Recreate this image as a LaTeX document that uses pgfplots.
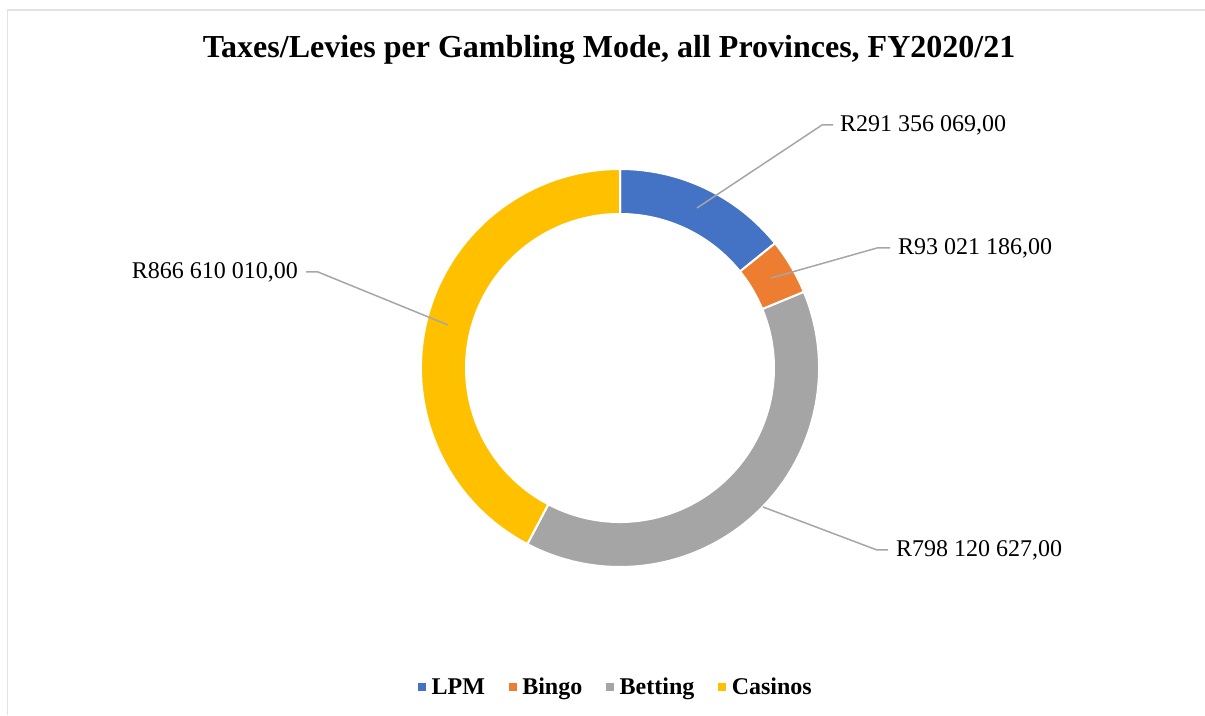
\documentclass[border=0pt]{standalone}
\usepackage{pgfplots}
\pgfplotsset{compat=1.18}
\usepackage{fontspec}
\setmainfont{Liberation Serif}
\definecolor{cLPM}{HTML}{4472C4}
\definecolor{cBingo}{HTML}{ED7D31}
\definecolor{cBetting}{HTML}{A5A5A5}
\definecolor{cCasinos}{HTML}{FFC000}
\definecolor{cLead}{HTML}{A6A6A6}
\definecolor{cFrame}{HTML}{E3E3E3}
\newcommand{\donutslice}[3]{%
  \fill[#1,draw=white,line width=2pt]
    (axis cs:{620+199*cos(#2)},{347+199*sin(#2)})
    arc[start angle=#2,end angle=#3,radius=199pt]
    -- (axis cs:{620+154*cos(#3)},{347+154*sin(#3)})
    arc[start angle=#3,end angle=#2,radius=154pt] -- cycle;}
\begin{document}
\begin{tikzpicture}
% values (Rand, in millions)
\pgfmathsetmacro{\vA}{291.356069}
\pgfmathsetmacro{\vB}{93.021186}
\pgfmathsetmacro{\vC}{798.120627}
\pgfmathsetmacro{\vD}{866.610010}
\pgfmathsetmacro{\tot}{\vA+\vB+\vC+\vD}
\pgfmathsetmacro{\aA}{90}
\pgfmathsetmacro{\aB}{90-360*(\vA/\tot)}
\pgfmathsetmacro{\aC}{\aB-360*(\vB/\tot)}
\pgfmathsetmacro{\aD}{\aC-360*(\vC/\tot)}
\pgfmathsetmacro{\aE}{-270}
\begin{axis}[
  scale only axis, width=1205pt, height=715pt,
  xmin=0, xmax=1205, ymin=0, ymax=715,
  hide axis, clip=false,
  legend columns=4,
  legend style={at={(axis cs:616,28)}, anchor=center, draw=none,
    font=\bfseries\fontsize{24}{27}\selectfont,
    /tikz/every even column/.append style={column sep=22pt},
    legend cell align=left},
]
\coordinate (BBsw) at (axis cs:0,0);
\coordinate (BBne) at (axis cs:1205,715);
\draw[cFrame, line width=1.5pt] (axis cs:7.5,0) -- (axis cs:7.5,705) -- (axis cs:1205,705);
\node[font=\bfseries\fontsize{32}{36}\selectfont] at (axis cs:609,665)
  {Taxes/Levies per Gambling Mode, all Provinces, FY2020/21};
\donutslice{cLPM}{\aA}{\aB}
\donutslice{cBingo}{\aB}{\aC}
\donutslice{cBetting}{\aC}{\aD}
\donutslice{cCasinos}{\aD}{\aE}
% leader lines and labels
\begin{scope}[cLead, line width=1.5pt]
\draw (axis cs:697,507) -- (axis cs:822,590) -- (axis cs:833,590);
\draw (axis cs:771,437) -- (axis cs:877,467) -- (axis cs:890,467);
\draw (axis cs:763,208) -- (axis cs:877,165) -- (axis cs:888,165);
\draw (axis cs:448,390) -- (axis cs:318,443) -- (axis cs:306,443);
\end{scope}
\begin{scope}[font=\fontsize{24}{27}\selectfont, inner sep=0pt]
\node[anchor=west] at (axis cs:840,590) {R291 356 069,00};
\node[anchor=west] at (axis cs:898,467) {R93 021 186,00};
\node[anchor=west] at (axis cs:896,165) {R798 120 627,00};
\node[anchor=east] at (axis cs:298,443) {R866 610 010,00};
\end{scope}
\addlegendimage{legend image code/.code={\fill[cLPM] (-6pt,-3.5pt) rectangle (1pt,3.5pt); \path (5pt,0);}}
\addlegendentry{LPM}
\addlegendimage{legend image code/.code={\fill[cBingo] (-6pt,-3.5pt) rectangle (1pt,3.5pt); \path (5pt,0);}}
\addlegendentry{Bingo}
\addlegendimage{legend image code/.code={\fill[cBetting] (-6pt,-3.5pt) rectangle (1pt,3.5pt); \path (5pt,0);}}
\addlegendentry{Betting}
\addlegendimage{legend image code/.code={\fill[cCasinos] (-6pt,-3.5pt) rectangle (1pt,3.5pt); \path (5pt,0);}}
\addlegendentry{Casinos}
\end{axis}
\pgfresetboundingbox
\useasboundingbox (BBsw) rectangle (BBne);
\end{tikzpicture}
\end{document}
